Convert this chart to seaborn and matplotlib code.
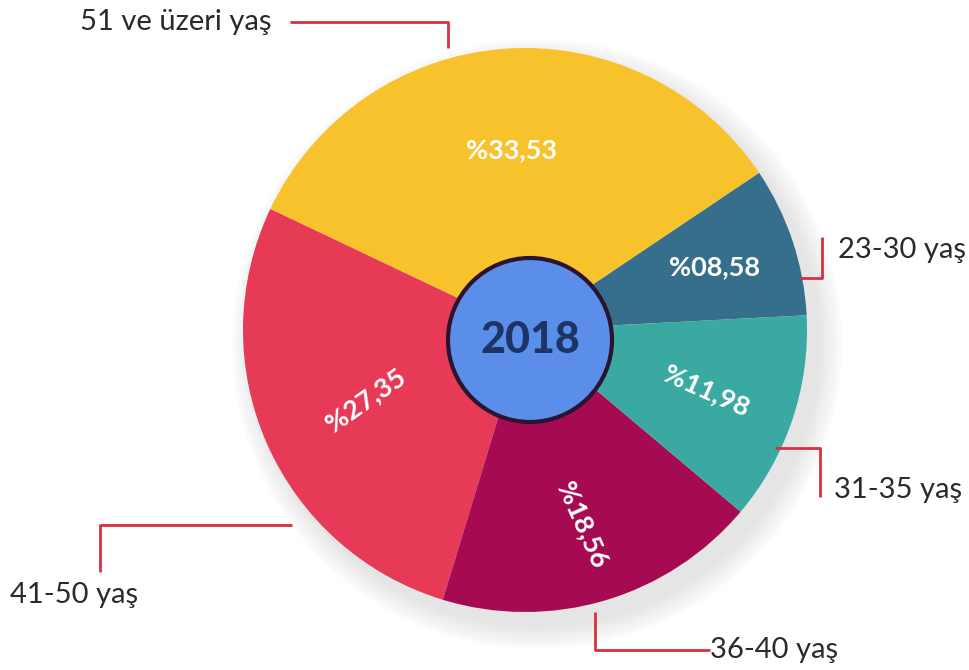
# pie chart of age groups for 2018 with a centre badge

import numpy as np
import pandas as pd
import seaborn as sns
import matplotlib.pyplot as plt

# data (counter clockwise starting from the right)
groups = ['23-30 yaş', '51 ve üzeri yaş', '41-50 yaş', '36-40 yaş', '31-35 yaş']
shares = [8.58, 33.53, 27.35, 18.56, 11.98]
pct_labels = ['%08,58', '%33,53', '%27,35', '%18,56', '%11,98']
colors = ['#356f8c', '#f8c22c', '#e63a57', '#a60a52', '#3aa9a2']
year = '2018'

sns.set_theme(style='white')
plt.rcParams['font.family'] = ['Lato', 'DejaVu Sans']

W, H = 969, 670
fig = plt.figure(figsize=(W / 100, H / 100), dpi=100)
ax = fig.add_axes([0, 0, 1, 1])

cx, cy, r = 525, H - 330, 282

# soft shadow under the pie
for k in range(8):
    ax.add_patch(plt.Circle((cx + 12, cy - 14), r + 2 + k * 3, color='#7a7a7a',
                            alpha=0.022, lw=0, zorder=0))

wedges, _ = ax.pie(shares, colors=colors, startangle=3, counterclock=True,
                   center=(cx, cy), radius=r, wedgeprops=dict(linewidth=0))
for w in wedges:
    w.set_zorder(2)

# percentage text inside each slice, placed on the middle angle of the slice
rotations = [0, 0, 35, -66, -24]
dists = [0.71, 0.64, 0.62, 0.72, 0.68]
for w, lab, rot, d in zip(wedges, pct_labels, rotations, dists):
    mid = np.deg2rad((w.theta1 + w.theta2) / 2)
    ax.text(cx + d * r * np.cos(mid), cy + d * r * np.sin(mid), lab,
            color='white', fontsize=19.5, fontweight='bold', rotation=rot,
            ha='center', va='center', zorder=5)

# centre badge
ax.add_patch(plt.Circle((cx + 5, cy - 10), 82, fc='#5b8ee9', ec='#2b1430', lw=3, zorder=6))
ax.text(cx + 5, cy - 10, year, color='#1d3566', fontsize=31, fontweight='black',
        ha='center', va='center', zorder=7)

# leader lines (picture pixel coords, y from top) and label spots
leaders = {
    '51 ve üzeri yaş': ([290, 448, 448], [22, 22, 48], 272, 22, 'right'),
    '23-30 yaş': ([800, 822, 822], [278, 278, 237], 838, 250, 'left'),
    '31-35 yaş': ([775, 820, 820], [448, 448, 497], 834, 490, 'left'),
    '36-40 yaş': ([595, 595, 710], [612, 650, 650], 710, 650, 'left'),
    '41-50 yaş': ([292, 100, 100], [525, 525, 572], 10, 595, 'left'),
}
for name in groups:
    xs, ys, tx, ty, ha = leaders[name]
    ax.plot(xs, [H - y for y in ys], color='#d9303f', lw=2, zorder=3,
            solid_capstyle='butt')
    ax.text(tx, H - ty, name, color='#2a2a2a', fontsize=21, ha=ha, va='center', zorder=4)

ax.set_xlim(0, W)
ax.set_ylim(0, H)
ax.set_aspect('equal')
ax.axis('off')

plt.savefig('out.png', dpi=100)
